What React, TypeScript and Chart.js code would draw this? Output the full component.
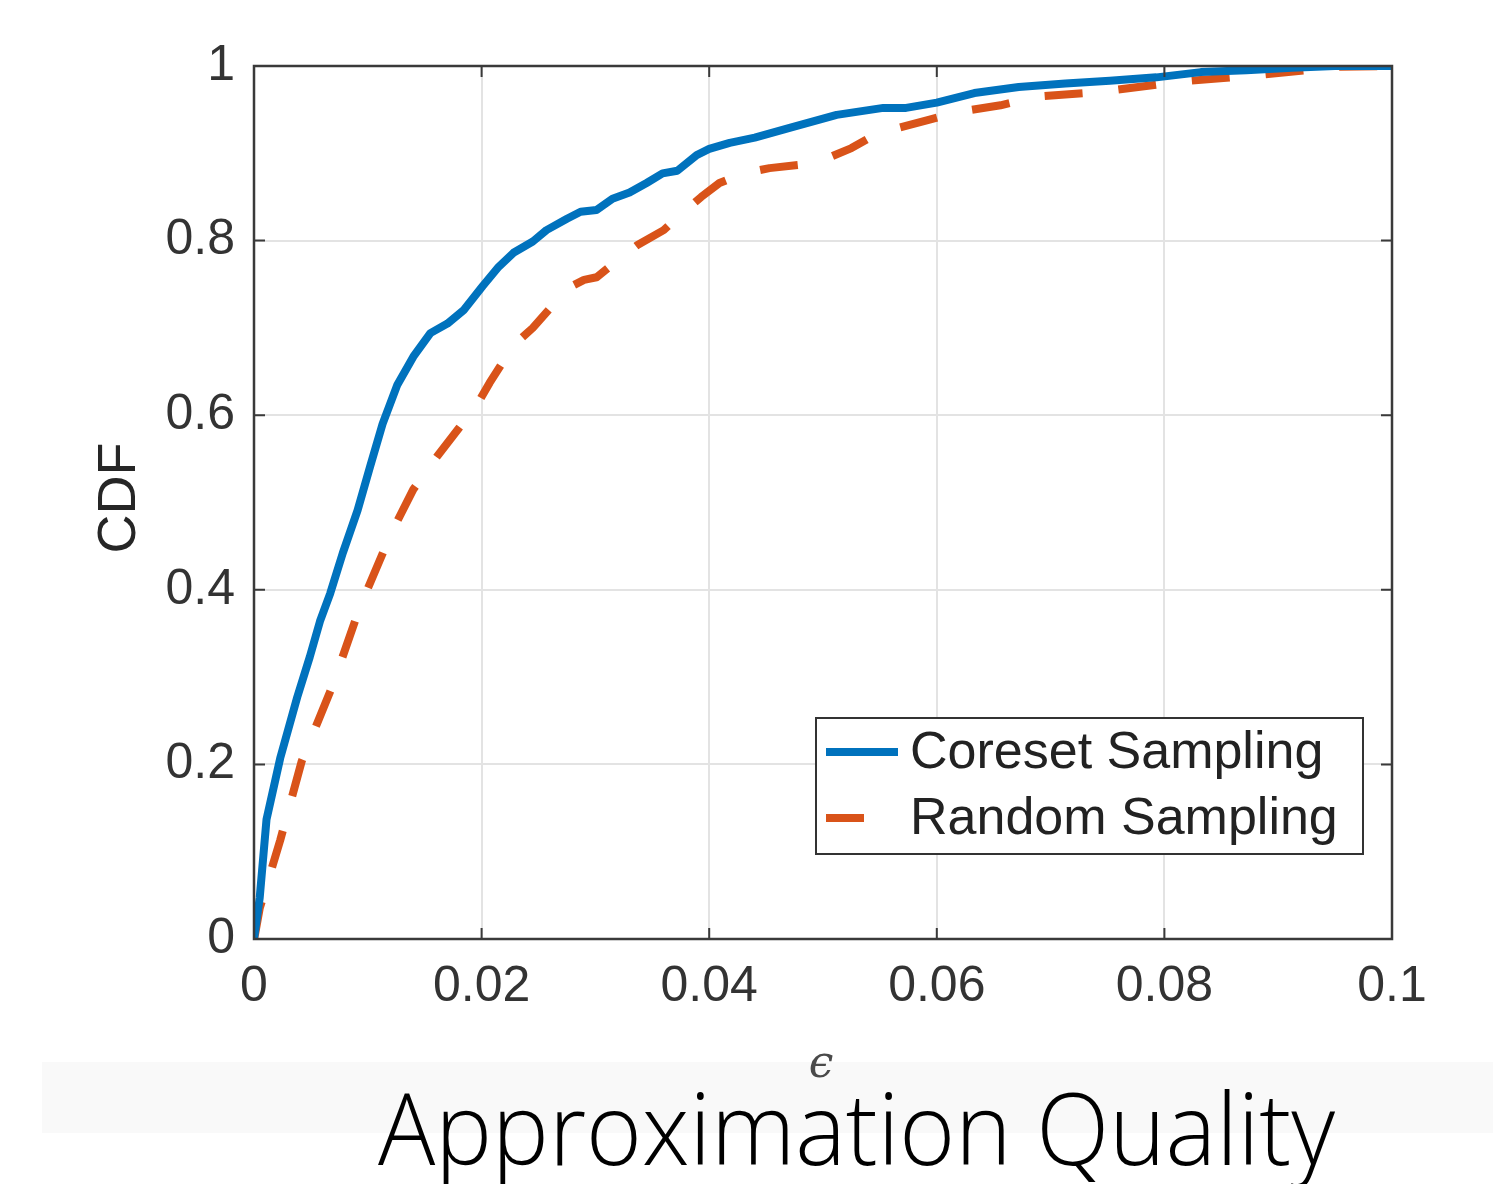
import React, { useEffect, useRef } from 'react';
import { Chart, registerables } from 'chart.js';

Chart.register(...registerables);

const coresetX = [0, 0.0005, 0.0011, 0.0023, 0.0038, 0.0049, 0.0058, 0.0067, 0.0078, 0.0091, 0.0102, 0.0113, 0.0126, 0.014, 0.0155, 0.017, 0.0184, 0.0201, 0.0215, 0.0228, 0.0245, 0.0257, 0.0275, 0.0287, 0.0301, 0.0315, 0.033, 0.0345, 0.0359, 0.0372, 0.0389, 0.04, 0.0418, 0.044, 0.0473, 0.0512, 0.0553, 0.0573, 0.06, 0.0633, 0.0672, 0.0713, 0.0752, 0.0793, 0.0832, 0.0872, 0.0912, 0.095, 0.1];
const coresetY = [0, 0.047, 0.137, 0.207, 0.277, 0.323, 0.364, 0.396, 0.442, 0.491, 0.541, 0.59, 0.635, 0.667, 0.694, 0.705, 0.72, 0.748, 0.77, 0.786, 0.799, 0.812, 0.825, 0.833, 0.835, 0.848, 0.855, 0.866, 0.877, 0.88, 0.898, 0.905, 0.912, 0.918, 0.93, 0.944, 0.952, 0.952, 0.958, 0.969, 0.976, 0.98, 0.983, 0.987, 0.993, 0.995, 0.998, 1.0, 1.0];

const randomX = [0, 0.0001, 0.0005, 0.0023, 0.0042, 0.0069, 0.0093, 0.0121, 0.014, 0.0161, 0.018, 0.0196, 0.0207, 0.0228, 0.0245, 0.0262, 0.0278, 0.029, 0.0301, 0.032, 0.0337, 0.036, 0.0375, 0.0393, 0.0409, 0.043, 0.0453, 0.0481, 0.0505, 0.0525, 0.0548, 0.0592, 0.0617, 0.0656, 0.0688, 0.0741, 0.0813, 0.0885, 0.0953, 0.1];
const randomY = [0, 0.006, 0.035, 0.113, 0.204, 0.29, 0.38, 0.466, 0.515, 0.553, 0.585, 0.612, 0.637, 0.68, 0.7, 0.725, 0.747, 0.755, 0.758, 0.778, 0.795, 0.812, 0.83, 0.85, 0.866, 0.877, 0.883, 0.887, 0.895, 0.906, 0.923, 0.938, 0.947, 0.955, 0.965, 0.97, 0.982, 0.99, 0.999, 1.0];

const xTicks = [0, 0.02, 0.04, 0.06, 0.08, 0.1];
const yTicks = [0, 0.2, 0.4, 0.6, 0.8, 1];
const seriesLabels = ['Coreset Sampling', 'Random Sampling'];
const seriesColors = ['#0072BD', '#D95319'];
const xAxisTitle = 'ϵ';
const yAxisTitle = 'CDF';
const caption = 'Approximation Quality';

const W = 1493;
const H = 1184;
const FONT = '"Liberation Sans", Arial, Helvetica, sans-serif';
const DASH = [38, 36];

const fmt = (v: number) => String(Number(v.toFixed(2)));

const decorPlugin = {
  id: 'decor',
  beforeDraw(chart: any) {
    const ctx = chart.ctx;
    ctx.save();
    ctx.fillStyle = '#ffffff';
    ctx.fillRect(0, 0, W, H);
    ctx.fillStyle = '#f9f9f9';
    ctx.fillRect(42, 1062, W - 42, 71);
    ctx.restore();
  },
  afterDatasetsDraw(chart: any) {
    const ctx = chart.ctx;
    const a = chart.chartArea;
    const xs = chart.scales.x;
    const ys = chart.scales.y;
    ctx.save();
    // box
    ctx.strokeStyle = '#3a3a3a';
    ctx.lineWidth = 2.5;
    ctx.strokeRect(a.left, a.top, a.right - a.left, a.bottom - a.top);
    // inward ticks
    ctx.lineWidth = 2;
    const tl = 11;
    xTicks.forEach((v) => {
      const px = xs.getPixelForValue(v);
      ctx.beginPath();
      ctx.moveTo(px, a.bottom);
      ctx.lineTo(px, a.bottom - tl);
      ctx.moveTo(px, a.top);
      ctx.lineTo(px, a.top + tl);
      ctx.stroke();
    });
    yTicks.forEach((v) => {
      const py = ys.getPixelForValue(v);
      ctx.beginPath();
      ctx.moveTo(a.left, py);
      ctx.lineTo(a.left + tl, py);
      ctx.moveTo(a.right, py);
      ctx.lineTo(a.right - tl, py);
      ctx.stroke();
    });

    // legend
    const lx = 816, ly = 718, lw = 547, lh = 136;
    ctx.fillStyle = '#ffffff';
    ctx.fillRect(lx, ly, lw, lh);
    ctx.strokeStyle = '#333333';
    ctx.lineWidth = 2;
    ctx.strokeRect(lx, ly, lw, lh);
    const rows = [752, 818];
    chart.data.datasets.forEach((ds: any, i: number) => {
      ctx.save();
      ctx.strokeStyle = ds.borderColor;
      ctx.lineWidth = 8;
      ctx.setLineDash(ds.borderDash || []);
      ctx.beginPath();
      ctx.moveTo(826, rows[i]);
      ctx.lineTo(898, rows[i]);
      ctx.stroke();
      ctx.restore();
      ctx.fillStyle = '#222222';
      ctx.font = `52px ${FONT}`;
      ctx.textAlign = 'left';
      ctx.textBaseline = 'middle';
      ctx.fillText(ds.label, 910, rows[i] + 2);
    });

    // axis titles
    ctx.fillStyle = '#262626';
    ctx.font = `54px ${FONT}`;
    ctx.textAlign = 'center';
    ctx.textBaseline = 'middle';
    ctx.save();
    ctx.translate(120, 498);
    ctx.rotate(-Math.PI / 2);
    ctx.fillText(yAxisTitle, 0, 0);
    ctx.restore();

    ctx.fillStyle = '#4a4a4a';
    ctx.font = `italic 44px "DejaVu Serif", serif`;
    ctx.textAlign = 'center';
    ctx.textBaseline = 'alphabetic';
    ctx.fillText(xAxisTitle, 821, 1077);

    // caption
    ctx.fillStyle = '#000000';
    ctx.font = `300 100px "Open Sans", "Noto Sans", sans-serif`;
    ctx.textAlign = 'left';
    ctx.textBaseline = 'alphabetic';
    const mw = ctx.measureText(caption).width;
    ctx.save();
    ctx.translate(378, 1165);
    ctx.scale(957 / mw, 1);
    ctx.fillText(caption, 0, 0);
    ctx.restore();
    ctx.restore();
  },
};

export default function App() {
  const ref = useRef<HTMLCanvasElement | null>(null);
  useEffect(() => {
    if (!ref.current) return;
    const chart = new Chart(ref.current, {
      type: 'line',
      data: {
        datasets: [
          {
            label: seriesLabels[0],
            data: coresetX.map((x, i) => ({ x, y: coresetY[i] })),
            borderColor: seriesColors[0],
            borderWidth: 8,
            pointRadius: 0,
            tension: 0,
            fill: false,
            borderJoinStyle: 'round',
          },
          {
            label: seriesLabels[1],
            data: randomX.map((x, i) => ({ x, y: randomY[i] })),
            borderColor: seriesColors[1],
            borderWidth: 8,
            pointRadius: 0,
            tension: 0,
            fill: false,
            borderDash: DASH,
            borderJoinStyle: 'round',
          },
        ],
      },
      options: {
        animation: false,
        responsive: false,
        maintainAspectRatio: false,
        devicePixelRatio: 1,
        layout: { padding: { top: 66, right: 101, left: 0, bottom: 0 } },
        plugins: { legend: { display: false }, tooltip: { enabled: false } },
        scales: {
          x: {
            type: 'linear',
            min: 0,
            max: 0.1,
            afterBuildTicks: (s: any) => {
              s.ticks = xTicks.map((v) => ({ value: v }));
            },
            afterFit: (s: any) => {
              s.height = H - 939;
            },
            ticks: {
              callback: (v: any) => fmt(Number(v)),
              font: { family: FONT, size: 50 },
              color: '#333333',
              padding: 18,
              maxRotation: 0,
              autoSkip: false,
            },
            grid: { color: '#e3e3e3', lineWidth: 2, drawTicks: false },
            border: { display: false },
          },
          y: {
            type: 'linear',
            min: 0,
            max: 1,
            afterBuildTicks: (s: any) => {
              s.ticks = yTicks.map((v) => ({ value: v }));
            },
            afterFit: (s: any) => {
              s.width = 254;
            },
            ticks: {
              callback: (v: any) => fmt(Number(v)),
              font: { family: FONT, size: 50 },
              color: '#333333',
              padding: 19,
              autoSkip: false,
            },
            grid: { color: '#e3e3e3', lineWidth: 2, drawTicks: false },
            border: { display: false },
          },
        },
      },
      plugins: [decorPlugin],
    } as any);
    return () => chart.destroy();
  }, []);
  return (
    <div style={{ position: 'fixed', left: 0, top: 0, width: W, height: H }}>
      <canvas ref={ref} width={W} height={H} style={{ width: W, height: H, display: 'block' }} />
    </div>
  );
}
